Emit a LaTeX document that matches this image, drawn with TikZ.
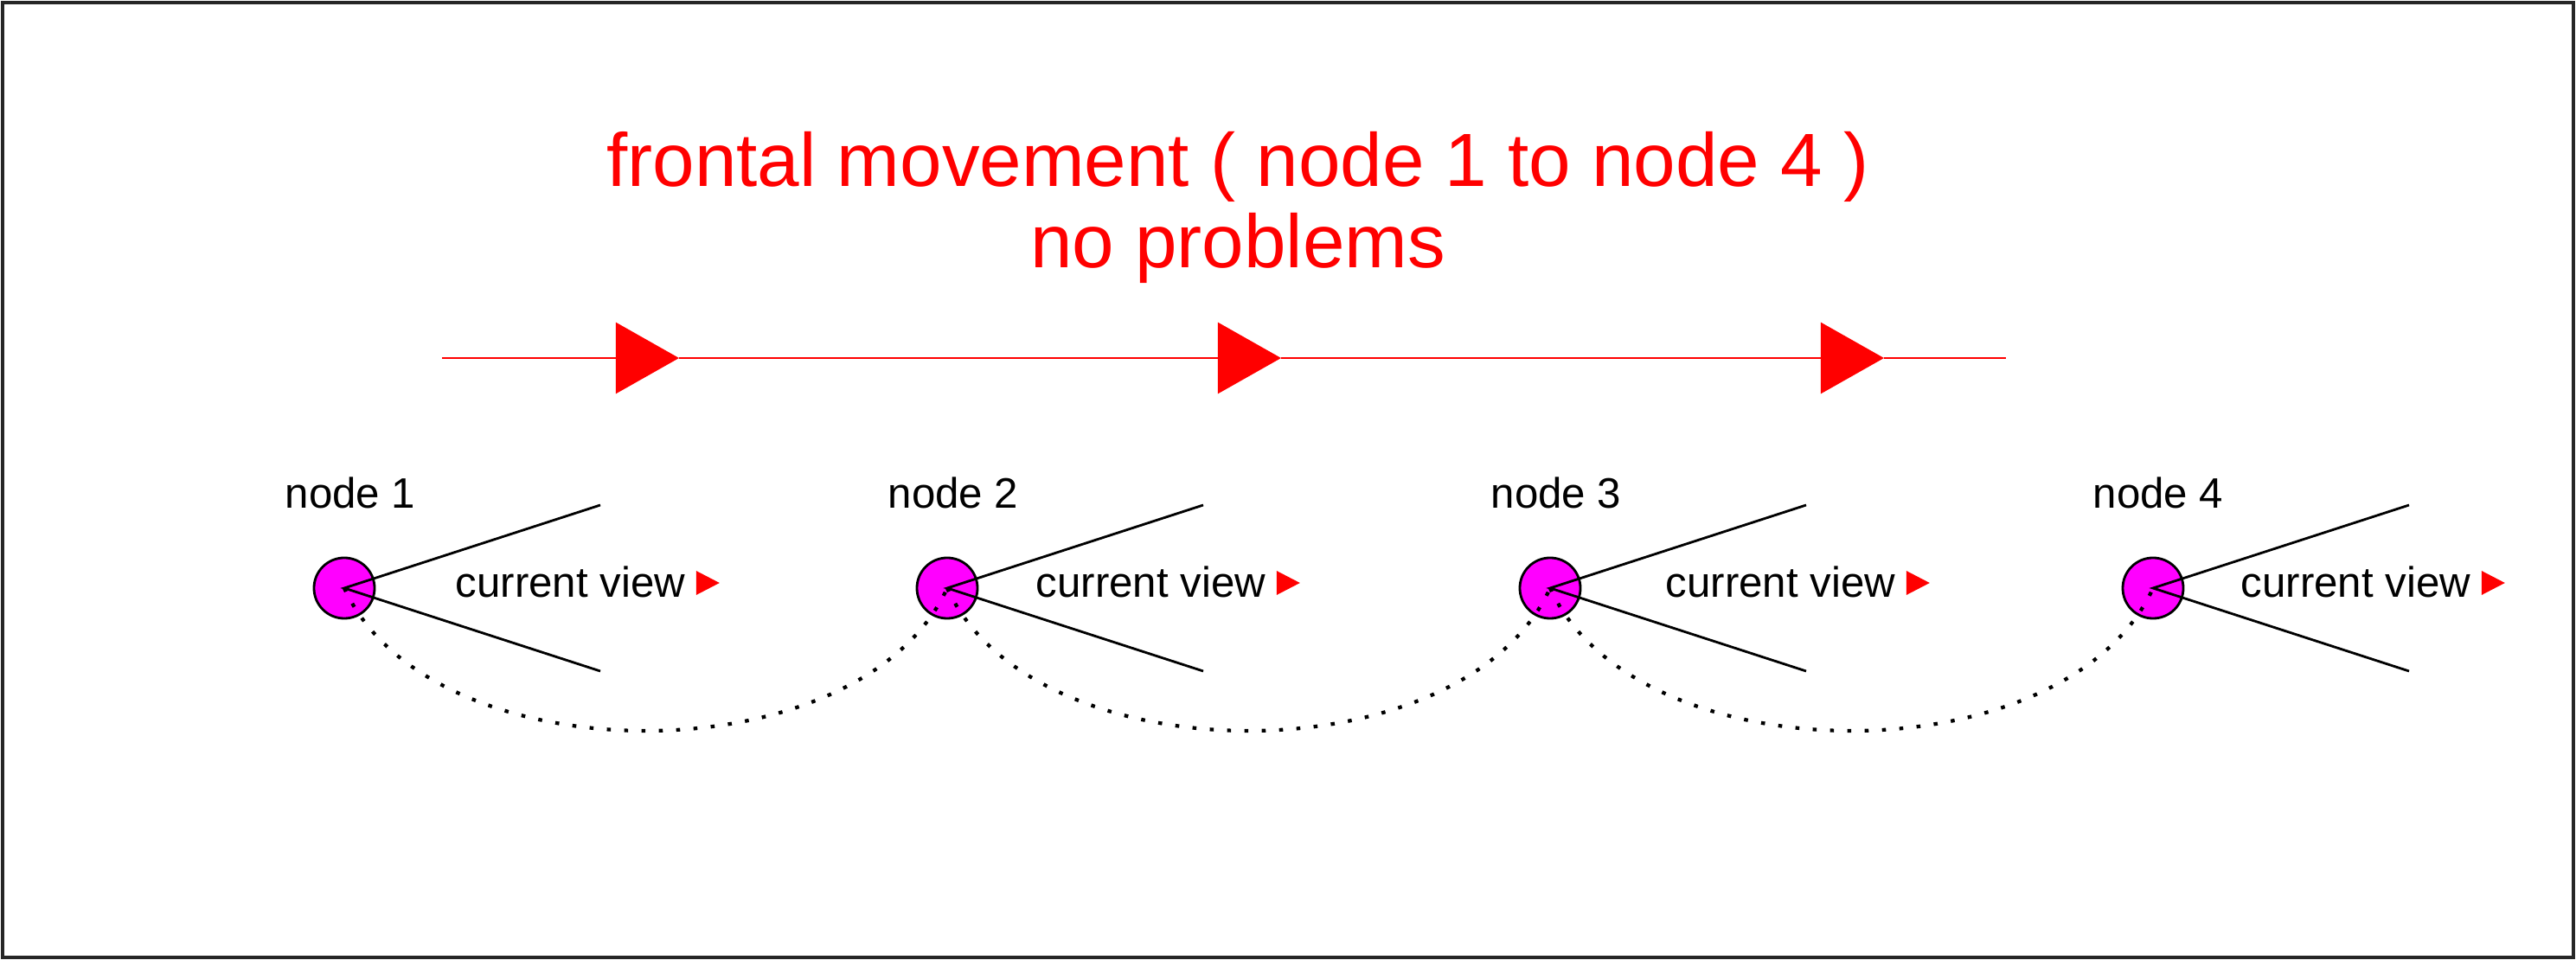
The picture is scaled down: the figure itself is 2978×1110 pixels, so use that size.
\documentclass[tikz,border=0pt]{standalone}
\usepackage{fontspec}
\setmainfont{Liberation Sans}
\usetikzlibrary{positioning, arrows.meta, calc}
\definecolor{nodepink}{RGB}{255,0,255}

\begin{document}
\begin{tikzpicture}[
    x=0.01cm, y=-0.01cm,
    every node/.style={align=center, inner sep=0pt},
    headline/.style={text=red, font=\fontsize{24.8}{30}\selectfont},
    nodename/.style={font=\fontsize{14}{17}\selectfont},
    viewtext/.style={font=\fontsize{14}{17}\selectfont},
    waypoint/.style={draw, circle, fill=nodepink, minimum size=0.7cm, line width=0.8pt},
    sight/.style={line width=0.8pt},
    route/.style={line width=1.2pt, dash pattern=on 1.3pt off 4.4pt},
    movearrow/.style={red, line width=0.7pt, -{Triangle[length=0.73cm, width=0.82cm]}},
    viewtip/.style={fill=red},
]
\useasboundingbox (0,0) rectangle (2978,1110);
\draw[line width=1.2pt, black!85] (3,3) rectangle (2975,1107);
% Title
\node[headline, anchor=base] (head1) at (1431,216) {frontal movement ( node 1 to node 4 )};
\node[headline, anchor=base] (head2) at (1431,310) {no problems};
% Direction of movement
\coordinate (m0) at (511,414);
\coordinate (m1) at (785,414);
\coordinate (m2) at (1481,414);
\coordinate (m3) at (2178,414);
\coordinate (m4) at (2319,414);
\draw[movearrow] (m0) -- (m1);
\draw[movearrow] (m1) -- (m2);
\draw[movearrow] (m2) -- (m3);
\draw[red, line width=0.7pt] (m3) -- (m4);
% Nodes
\node[waypoint] (n1) at (398,680) {};
\node[waypoint] (n2) at (1095,680) {};
\node[waypoint] (n3) at (1792,680) {};
\node[waypoint] (n4) at (2489,680) {};
\node[nodename, anchor=base west] (name1) at (329,588) {node 1};
\node[nodename, anchor=base west] (name2) at (1026,588) {node 2};
\node[nodename, anchor=base west] (name3) at (1723,588) {node 3};
\node[nodename, anchor=base west] (name4) at (2419,588) {node 4};
% View cones
\coordinate (n1up) at (694,584);
\coordinate (n1dn) at (694,776);
\coordinate (n2up) at (1391,584);
\coordinate (n2dn) at (1391,776);
\coordinate (n3up) at (2088,584);
\coordinate (n3dn) at (2088,776);
\coordinate (n4up) at (2785,584);
\coordinate (n4dn) at (2785,776);
\draw[sight] (n1up) -- (n1.center) -- (n1dn);
\draw[sight] (n2up) -- (n2.center) -- (n2dn);
\draw[sight] (n3up) -- (n3.center) -- (n3dn);
\draw[sight] (n4up) -- (n4.center) -- (n4dn);
\node[viewtext, anchor=base west] (v1) at (526,691) {current view};
\node[viewtext, anchor=base west] (v2) at (1197,691) {current view};
\node[viewtext, anchor=base west] (v3) at (1925,691) {current view};
\node[viewtext, anchor=base west] (v4) at (2590,691) {current view};
\fill[viewtip] ($(v1.base east)+(12,-31)$) -- ++(27,14) -- ++(-27,14) -- cycle;
\fill[viewtip] ($(v2.base east)+(12,-31)$) -- ++(27,14) -- ++(-27,14) -- cycle;
\fill[viewtip] ($(v3.base east)+(12,-31)$) -- ++(27,14) -- ++(-27,14) -- cycle;
\fill[viewtip] ($(v4.base east)+(12,-31)$) -- ++(27,14) -- ++(-27,14) -- cycle;
% Route between nodes
\draw[route] (n1.center) .. controls +(100,220) and +(-100,220) .. (n2.center);
\draw[route] (n2.center) .. controls +(100,220) and +(-100,220) .. (n3.center);
\draw[route] (n3.center) .. controls +(100,220) and +(-100,220) .. (n4.center);
\end{tikzpicture}
\end{document}
